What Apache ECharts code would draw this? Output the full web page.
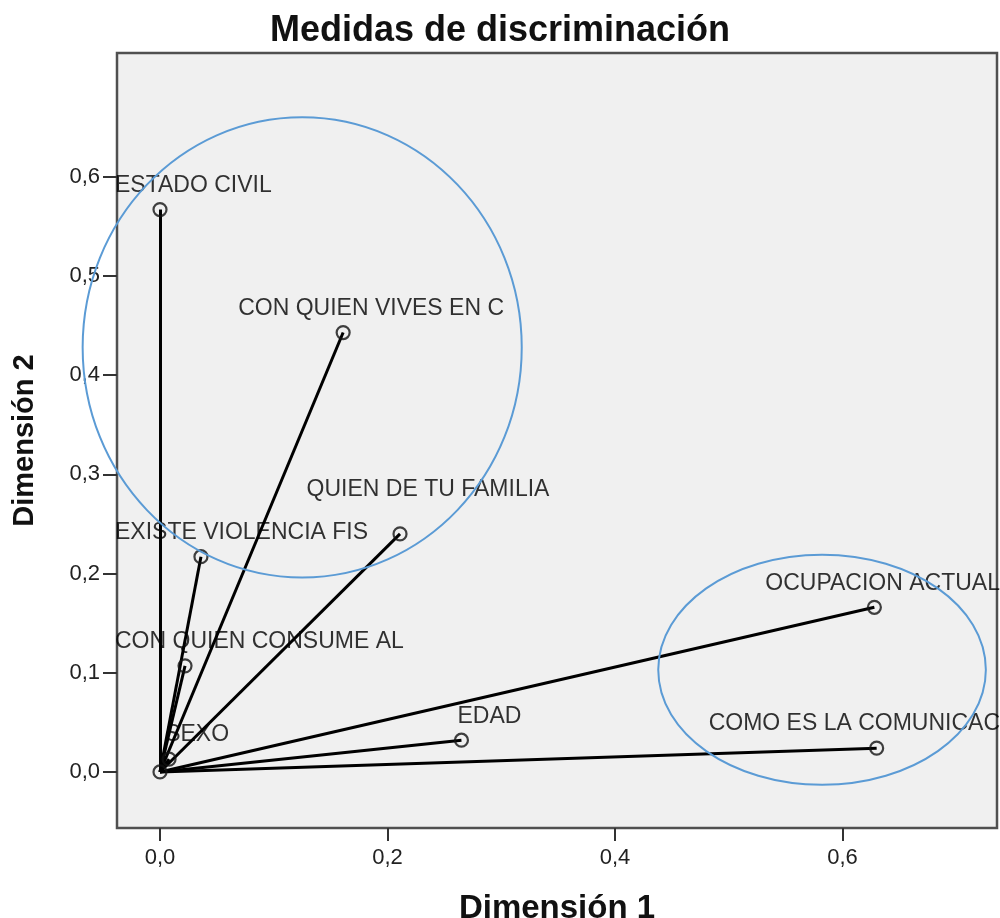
<!DOCTYPE html>
<html><head><meta charset="utf-8">
<script src="https://cdn.jsdelivr.net/npm/echarts@6/dist/echarts.min.js"></script>
<style>html,body{margin:0;padding:0;background:#fff}#c{width:1000px;height:918px}</style>
</head><body><div id="c"></div>
<script>
// ---- data ----
const variables = ['ESTADO CIVIL', 'CON QUIEN VIVES EN C', 'QUIEN DE TU FAMILIA', 'EXISTE VIOLENCIA FIS',
  'CON QUIEN CONSUME AL', 'SEXO', 'EDAD', 'OCUPACION ACTUAL', 'COMO ES LA COMUNICAC'];
const dim1 = [0.000, 0.161, 0.211, 0.036, 0.022, 0.008, 0.265, 0.628, 0.630];
const dim2 = [0.567, 0.443, 0.240, 0.217, 0.107, 0.013, 0.032, 0.166, 0.024];
const xTicks = [0.0, 0.2, 0.4, 0.6];
const yTicks = [0.0, 0.1, 0.2, 0.3, 0.4, 0.5, 0.6];
// annotation ellipses (data units): centre x, centre y, radius x, radius y
const ellipseCx = [0.125, 0.582];
const ellipseCy = [0.428, 0.103];
const ellipseRx = [0.193, 0.144];
const ellipseRy = [0.232, 0.116];

// ---- layout / style ----
const G = {left: 117, top: 53, right: 3, bottom: 90};
const labelRaise = {'QUIEN DE TU FAMILIA': 44};
const fmt = v => v.toFixed(1).replace('.', ',');
const sans = '"Liberation Sans", Arial, sans-serif';

const chart = echarts.init(document.getElementById('c'), null, {renderer: 'canvas'});
const pts = variables.map((n, i) => ({name: n, value: [dim1[i], dim2[i]]}));

chart.setOption({
  backgroundColor: '#fff',
  animation: false,
  title: {
    text: 'Medidas de discriminación', left: 'center', top: 8,
    textStyle: {fontFamily: sans, fontSize: 36, fontWeight: 'bold', color: '#111'}
  },
  grid: {left: G.left, top: G.top, right: G.right, bottom: G.bottom, show: true,
    containLabel: false, outerBoundsMode: 'none',
    backgroundColor: '#f0f0f0', borderColor: '#505050', borderWidth: 2.5},
  xAxis: {
    type: 'value', min: -0.0378, max: 0.7358,
    name: 'Dimensión 1', nameLocation: 'middle', nameGap: 64,
    nameTextStyle: {fontFamily: sans, fontSize: 33, fontWeight: 'bold', color: '#111'},
    axisLine: {show: false, onZero: false},
    axisTick: {show: true, customValues: xTicks, length: 13, inside: false, lineStyle: {color: '#333', width: 2}},
    axisLabel: {customValues: xTicks, formatter: fmt, margin: 19, fontFamily: sans, fontSize: 22, color: '#222'},
    splitLine: {show: false}
  },
  yAxis: {
    type: 'value', min: -0.0565, max: 0.7248,
    name: 'Dimensión 2', nameLocation: 'middle', nameGap: 78, nameRotate: 90,
    nameTextStyle: {fontFamily: sans, fontSize: 29, fontWeight: 'bold', color: '#111'},
    axisLine: {show: false, onZero: false},
    axisTick: {show: true, customValues: yTicks, length: 14, inside: false, lineStyle: {color: '#333', width: 2}},
    axisLabel: {customValues: yTicks, formatter: fmt, margin: 17, fontFamily: sans, fontSize: 22, color: '#222'},
    splitLine: {show: false}
  },
  series: [
    {
      type: 'lines', coordinateSystem: 'cartesian2d', z: 2, silent: true,
      data: pts.map(p => ({coords: [[0, 0], p.value]})),
      lineStyle: {color: '#000', width: 3, opacity: 1, curveness: 0}
    },
    {
      type: 'scatter', z: 3, symbol: 'circle', symbolSize: 13,
      itemStyle: {color: 'rgba(0,0,0,0)', borderColor: '#111', borderWidth: 2.2},
      data: [{name: '', value: [0, 0], label: {show: false}}],
      silent: true
    },
    {
      type: 'scatter', z: 4, symbol: 'circle', symbolSize: 13,
      itemStyle: {color: 'rgba(0,0,0,0)', borderColor: '#111', borderWidth: 2.2},
      data: pts,
      label: {show: true, position: 'top', formatter: '{b}', fontFamily: sans, fontSize: 23, color: '#000'},
      labelLayout: function (p) {
        const name = variables[p.dataIndex];
        const raise = labelRaise[name] || 24;
        const w = p.labelRect.width;
        const cx = p.rect.x + p.rect.width / 2 + 28;
        let left = cx - w / 2;
        left = Math.max(G.left - 2, Math.min(left, 1000 - w));
        return {x: left, y: p.rect.y + p.rect.height / 2 - raise, align: 'left', verticalAlign: 'middle'};
      },
      silent: true
    },
    {
      type: 'custom', z: 10, clip: false, silent: true,
      data: ellipseCx.map((c, i) => [c, ellipseCy[i], ellipseRx[i], ellipseRy[i]]),
      encode: {x: 0, y: 1},
      renderItem: function (params, api) {
        const c = api.coord([api.value(0), api.value(1)]);
        const s = api.size([api.value(2), api.value(3)]);
        return {type: 'ellipse', shape: {cx: c[0], cy: c[1], rx: s[0], ry: s[1]},
          style: {fill: 'none', stroke: '#5b9bd5', lineWidth: 2}};
      }
    }
  ]
});
</script></body></html>
